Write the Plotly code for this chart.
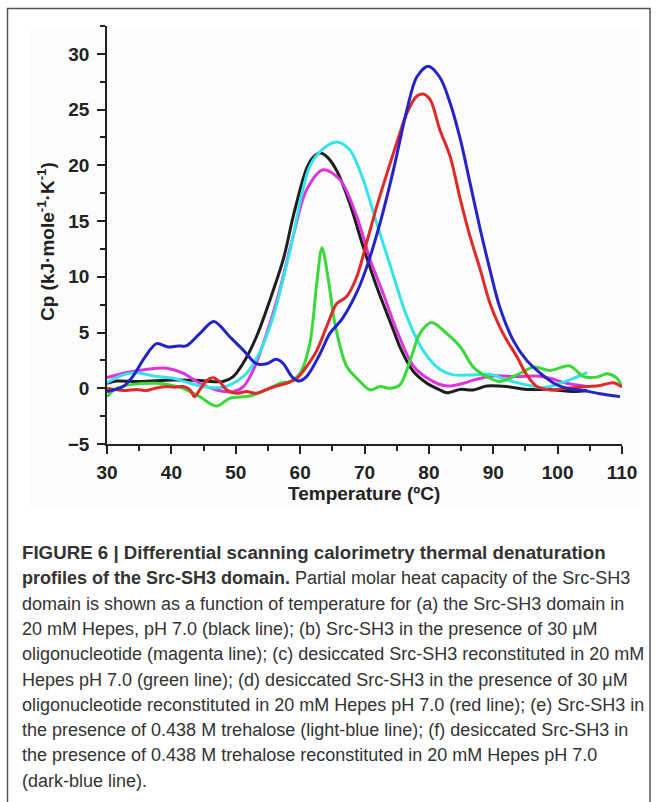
import plotly.graph_objects as go

# Src-SH3 DSC profiles
t_black = [30, 31.5, 35, 40.3, 44.4, 48, 49.6, 51.1, 53.2, 55.3, 57.4, 59, 61, 62, 63.1, 64.3, 65.7, 67.7,
           69.8, 71.9, 74.5, 75.5, 77.6, 79.7, 81.7, 82.8, 84.9, 86.9, 89, 92.1, 95.2, 98.8, 102.5, 104.6]
cp_black = [0.45, 0.65, 0.6, 0.75, 0.7, 0.6, 1.05, 2.2, 4.6, 7.9, 11.6, 15.6, 19.7, 20.7, 21.1, 20.7, 19.5,
            16.6, 12.7, 9.1, 5.2, 3.7, 1.5, 0.45, -0.15, -0.4, -0.1, -0.15, 0.2, 0.15, -0.1, -0.1, -0.3, -0.2]

t_magenta = [30, 32.5, 35, 37.7, 39.3, 41.8, 44.4, 47, 49.6, 51.2, 52.7, 54.8, 56.6, 58.9, 61, 63.6, 66.2,
             68.8, 70.9, 72.9, 75, 77.6, 80.2, 82.8, 85.4, 87, 90, 93.7, 96.8, 98.8, 101.4, 104.6]
cp_magenta = [0.95, 1.35, 1.6, 1.8, 1.8, 1.35, 0.45, -0.15, -0.3, 0.15, 1.6, 4.9, 8.3, 13.6, 17.8, 19.6, 18.7,
              15.4, 11.5, 8.5, 5.2, 2.0, 0.75, 0.2, 0.45, 0.75, 1.1, 1.05, 1.1, 0.9, 0.45, 0.15]

t_cyan = [30, 32.5, 34.6, 37.7, 40.3, 42.9, 45.5, 48, 49.6, 51.7, 53.7, 55.8, 58.4, 61.5, 63.6, 65.7, 67.7,
          69.8, 71.9, 74, 76.6, 79.1, 81.7, 83.8, 86.9, 89.5, 92.1, 95.2, 97.8, 100.4, 102.5, 104.6]
cp_cyan = [0.5, 1.2, 1.4, 1.05, 0.9, 0.45, 0.1, 0.1, 0.45, 1.35, 3.2, 6.4, 12.3, 19.9, 21.5, 22.1, 21.4,
           18.7, 14.8, 11.0, 6.4, 3.4, 1.7, 1.2, 1.2, 1.25, 0.75, 0.3, 0.05, 0.45, 0.9, 1.4]

t_green = [30, 31.5, 34, 37.7, 39.8, 41.8, 44.4, 47, 49.1, 52.2, 55.3, 56.9, 58.4, 60, 61.5, 62.6, 63.4,
           64.4, 65.4, 67.2, 68.8, 70.9, 72.4, 74, 75.5, 77.1, 78.6, 80.4, 82.8, 84.9, 86.9, 89, 91, 93.7,
           96.3, 98.8, 101.9, 104, 106.1, 107.7, 109.2, 110]
cp_green = [-0.75, 0, 0.35, 0.45, 0.3, 0, -0.75, -1.6, -0.9, -0.7, 0, 0.45, 0.6, 1.35, 4.0, 9.5, 12.6,
            9.7, 5.8, 2.0, 0.9, -0.15, 0.15, 0, 0.3, 2.5, 4.9, 5.9, 4.9, 3.7, 1.9, 1.05, 0.6, 1.2,
            1.9, 1.6, 2.0, 1.05, 1.0, 1.3, 0.9, 0.15]

t_red = [30, 32.5, 34.6, 36.1, 37.5, 39.2, 40.5, 41.8, 42.9, 43.6, 44.4, 45.5, 46.5, 47.5, 48.6, 50.1, 51.7,
         53.2, 54.8, 56.3, 57.9, 59.5, 61, 62.6, 64.1, 65.7, 67.2, 68.8, 70.3, 71.9, 73.5, 75, 76.6, 78.1,
         79.1, 80.2, 81.7, 83.3, 84.9, 86.4, 88, 89.5, 91, 92.1, 93.7, 95.2, 96.8, 98.8, 101.4, 104.6,
         106.6, 108.7, 110]
cp_red = [0, -0.2, -0.1, -0.2, 0, 0.15, 0.1, 0.15, -0.15, -0.75, -0.15, 0.7, 0.95, 0.6, -0.15, -0.45, -0.3,
          -0.45, -0.1, 0.2, 0.45, 0.9, 1.95, 3.4, 5.5, 7.6, 8.2, 10, 13, 16.3, 19.3, 22.0, 24.7, 26.2,
          26.4, 25.9, 23.2, 20.8, 16.9, 13.6, 10.6, 7.6, 5.5, 4.3, 2.8, 1.2, 0.15, -0.15, 0, 0.15,
          0.25, 0.5, 0.1]

t_blue = [30, 32.5, 34, 35.9, 37.7, 39.5, 41, 42.3, 44.4, 46.6, 49.1, 51.2, 53.2, 54.8, 56.3, 57.4, 58.7,
          59.7, 61, 63.1, 64.6, 66.5, 68.8, 70.3, 72.4, 74.5, 76.6, 78.1, 79.9, 81.7, 83.3, 84.9, 86.4,
          88, 89.5, 91, 93.1, 95.2, 97.3, 99.4, 101.4, 104, 106.6, 109.7]
cp_blue = [-0.3, 0.15, 1.05, 2.8, 4.0, 3.7, 3.8, 3.8, 4.9, 6.0, 4.6, 3.4, 2.2, 2.2, 2.6, 2.2, 1.05,
           0.65, 1.05, 3.1, 4.9, 6.2, 8.6, 10.8, 14.8, 19.6, 25, 27.9, 28.9, 27.9, 25.6, 22.3, 18.4,
           14.2, 10.6, 7.3, 4.3, 2.5, 1.35, 0.45, 0, -0.2, -0.5, -0.75]

x_ticks = [30, 40, 50, 60, 70, 80, 90, 100, 110]
y_ticks = [-5, 0, 5, 10, 15, 20, 25, 30]

caption = [
    "<span style='font-size:18.7px'><b>FIGURE 6 | Differential scanning calorimetry thermal denaturation</b></span>",
    "<b>profiles of the Src-SH3 domain.</b> Partial molar heat capacity of the Src-SH3",
    "domain is shown as a function of temperature for (a) the Src-SH3 domain in",
    "20 mM Hepes, pH 7.0 (black line); (b) Src-SH3 in the presence of 30 \u03bcM",
    "oligonucleotide (magenta line); (c) desiccated Src-SH3 reconstituted in 20 mM",
    "Hepes pH 7.0 (green line); (d) desiccated Src-SH3 in the presence of 30 \u03bcM",
    "oligonucleotide reconstituted in 20 mM Hepes pH 7.0 (red line); (e) Src-SH3 in",
    "the presence of 0.438 M trehalose (light-blue line); (f) desiccated Src-SH3 in",
    "the presence of 0.438 M trehalose reconstituted in 20 mM Hepes pH 7.0",
    "(dark-blue line).",
]

W, H = 657, 802
L, R, T, B = 107, 35, 26, 358
PW, PH = W - L - R, H - T - B


def px(x):
    return (x - L) / PW


def py(y):
    return (H - B - y) / PH


series = [
    (t_black, cp_black, "#1e1e1e"),
    (t_magenta, cp_magenta, "#dc35dc"),
    (t_cyan, cp_cyan, "#35e3e8"),
    (t_green, cp_green, "#3ad83a"),
    (t_red, cp_red, "#df2a2a"),
    (t_blue, cp_blue, "#2323c8"),
]

fig = go.Figure()
for tx, cy, col in series:
    fig.add_trace(go.Scatter(x=tx, y=cy, mode="lines",
                             line=dict(color=col, width=3, shape="spline", smoothing=0.9),
                             showlegend=False, hoverinfo="skip"))

tickfont = dict(family="Liberation Sans, Arial", size=19, color="#222", weight="bold")
fig.update_xaxes(range=[30, 110], tickvals=x_ticks, ticks="outside", ticklen=8, tickwidth=1.5,
                 tickcolor="#222", showline=True, linecolor="#222", linewidth=1.5,
                 showgrid=False, zeroline=False, tickfont=tickfont, ticklabelstandoff=2,
                 minor=dict(dtick=5, tick0=30, ticks="outside", ticklen=5, tickwidth=1.5, tickcolor="#222"))
fig.update_yaxes(range=[-5, 32.5], tickvals=y_ticks, ticks="outside", ticklen=8, tickwidth=1.5,
                 tickcolor="#222", showline=True, linecolor="#222", linewidth=1.5,
                 showgrid=False, zeroline=False, tickfont=tickfont, ticklabelstandoff=4,
                 minor=dict(dtick=2.5, tick0=0, ticks="outside", ticklen=5, tickwidth=1.5, tickcolor="#222"))

shapes = [
    dict(type="rect", xref="paper", yref="paper", x0=px(30), x1=px(639), y0=py(508), y1=py(30),
         fillcolor="#fcfcfc", line_width=0, layer="below"),
    dict(type="rect", xref="paper", yref="paper", x0=px(7.5), x1=px(650), y0=py(806), y1=py(8.5),
         fillcolor="rgba(0,0,0,0)", line=dict(color="#555", width=1.5)),
]

annotations = [
    dict(text="Cp (kJ\u00b7mole<sup>-1</sup>\u00b7K<sup>-1</sup>)", x=px(46), y=py(242), xref="paper", yref="paper",
         xanchor="center", yanchor="middle", textangle=-90, showarrow=False,
         font=dict(family="Liberation Sans, Arial", size=19, color="#222", weight="bold")),
    dict(text="Temperature (\u00baC)", x=px(364), y=py(493), xref="paper", yref="paper",
         xanchor="center", yanchor="middle", showarrow=False,
         font=dict(family="Liberation Sans, Arial", size=19, color="#222", weight="bold")),
]
for i, line in enumerate(caption):
    annotations.append(dict(text=line, x=px(20), y=py(553 + i * 25.3), xref="paper", yref="paper",
                            xanchor="left", yanchor="middle", showarrow=False, align="left",
                            font=dict(family="Liberation Sans, Arial", size=18, color="#333")))

fig.update_layout(width=W, height=H, margin=dict(l=L, r=R, t=T, b=B),
                  paper_bgcolor="white", plot_bgcolor="rgba(0,0,0,0)",
                  shapes=shapes, annotations=annotations)

# page body has a default 8px margin; drop it so the figure sits at the window corner
fig.write_html("out.html", config={"displayModeBar": False},
               post_script="document.body.style.margin='0px';")
